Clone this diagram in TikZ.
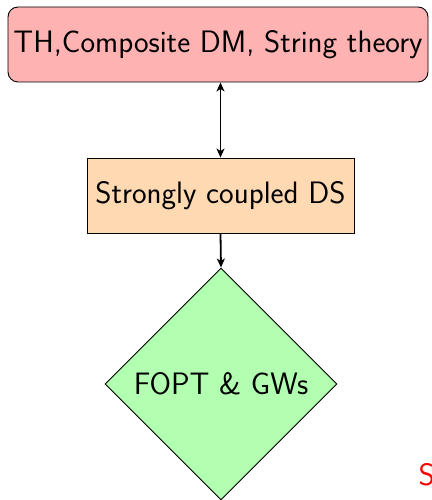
\documentclass[tikz,border=0pt]{standalone}
\usepackage{tikz}
\usetikzlibrary{shapes.geometric}
\usetikzlibrary{positioning}
\usetikzlibrary{arrows.meta}

\begin{document}
\begin{tikzpicture}[x=1pt,y=1pt,
    font=\sffamily\fontsize{31}{37}\selectfont,
    >={Stealth[length=9pt,width=8pt,inset=2.5pt]},
    theory/.style = {draw, line width=0.9pt, rounded corners=10pt, fill=red!30, minimum width=420pt, minimum height=75pt},
    sector/.style = {draw, line width=0.9pt, fill=orange!30, minimum width=267pt, minimum height=75pt},
    signal/.style = {diamond, draw, line width=0.9pt, fill=green!30, minimum width=232pt, minimum height=232pt, inner sep=0pt},
    link/.style = {draw, line width=1.8pt}]
    \useasboundingbox (0,0) rectangle (431,500);
    \node [theory] (th) at (218,455.5) {TH,Composite DM, String theory};
    \node [sector] (ds) at (220.5,304.5) {Strongly coupled DS};
    \node [signal] (gw) at (221,116) {FOPT \& GWs};
    \node [anchor=base west, text=red] (s) at (415,14) {S};
    \path [link,<->] (th.south -| ds.north) -- (ds.north);
    \path [link,->] (ds.south) -- (gw.north);
\end{tikzpicture}
\end{document}
